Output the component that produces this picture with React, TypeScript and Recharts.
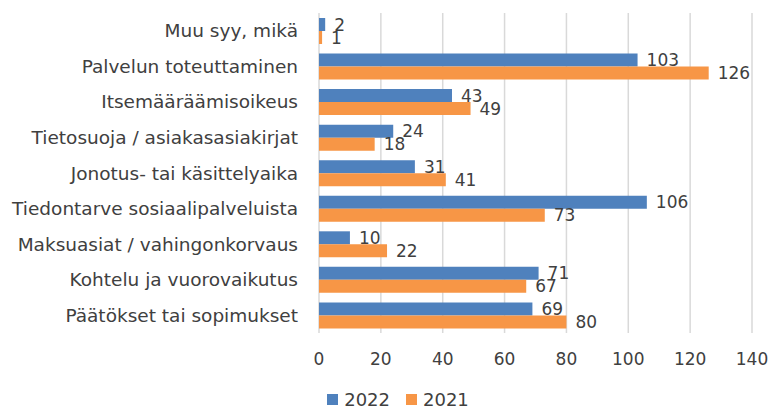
import React from 'react';
import { BarChart, Bar, XAxis, YAxis, CartesianGrid, Legend, LabelList } from 'recharts';

const categories = [
  'Muu syy, mikä',
  'Palvelun toteuttaminen',
  'Itsemääräämisoikeus',
  'Tietosuoja / asiakasasiakirjat',
  'Jonotus- tai käsittelyaika',
  'Tiedontarve sosiaalipalveluista',
  'Maksuasiat / vahingonkorvaus',
  'Kohtelu ja vuorovaikutus',
  'Päätökset tai sopimukset',
];
const values2022 = [2, 103, 43, 24, 31, 106, 10, 71, 69];
const values2021 = [1, 126, 49, 18, 41, 73, 22, 67, 80];
const xTicks = [0, 20, 40, 60, 80, 100, 120, 140];
const seriesNames = ['2022', '2021'];
const seriesColors = ['#4f81bd', '#f79646'];

const data = categories.map((c, i) => ({ name: c, y2022: values2022[i], y2021: values2021[i] }));

const FONT = '"DejaVu Sans", sans-serif';
const TEXT = '#404040';

const LegendContent = () => (
  <div style={{ display: 'flex', justifyContent: 'center', alignItems: 'center', fontFamily: FONT, fontSize: 18, color: TEXT, paddingLeft: 44 }}>
    {seriesNames.map((n, i) => (
      <span key={n} style={{ display: 'flex', alignItems: 'center', marginRight: i === 0 ? 16 : 0 }}>
        <span style={{ display: 'inline-block', width: 11, height: 11, background: seriesColors[i], marginRight: 6 }} />
        {n}
      </span>
    ))}
  </div>
);

export default function App() {
  return (
    <div style={{ position: 'absolute', left: 0, top: 0, fontFamily: FONT }}>
      <BarChart
        width={780}
        height={409}
        data={data}
        layout="vertical"
        margin={{ top: 13, right: 28, left: 0, bottom: 0 }}
        barCategoryGap="14%"
        barGap={0}
      >
        <CartesianGrid horizontal={false} stroke="#d9d9d9" strokeWidth={1.5} />
        <XAxis
          type="number"
          domain={[0, 140]}
          ticks={xTicks}
          axisLine={false}
          tickLine={false}
          tick={{ fill: TEXT, fontSize: 17, fontFamily: FONT }}
          tickMargin={14}
          height={56}
        />
        <YAxis
          type="category"
          dataKey="name"
          width={319}
          axisLine={false}
          tickLine={false}
          tick={{ fill: TEXT, fontSize: 18.5, fontFamily: FONT }}
          tickMargin={15}
        />
        <Legend verticalAlign="bottom" height={20} content={<LegendContent />} />
        <Bar dataKey="y2022" name="2022" fill={seriesColors[0]} isAnimationActive={false}>
          <LabelList dataKey="y2022" position="right" offset={9} fill={TEXT} fontSize={17} fontFamily={FONT} />
        </Bar>
        <Bar dataKey="y2021" name="2021" fill={seriesColors[1]} isAnimationActive={false}>
          <LabelList dataKey="y2021" position="right" offset={9} fill={TEXT} fontSize={17} fontFamily={FONT} />
        </Bar>
      </BarChart>
    </div>
  );
}
